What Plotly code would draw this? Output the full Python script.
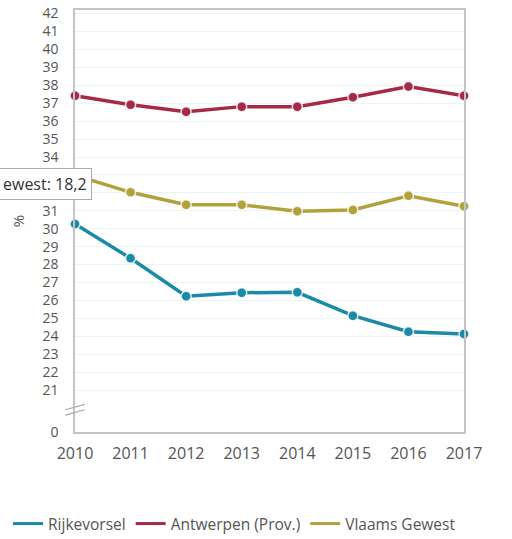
import plotly.graph_objects as go

years = [2010, 2011, 2012, 2013, 2014, 2015, 2016, 2017]
# values as displayed on the (broken) percentage axis
rijkevorsel = [30.26, 28.35, 26.23, 26.43, 26.45, 25.15, 24.25, 24.13]
antwerpen = [37.42, 36.92, 36.53, 36.81, 36.81, 37.33, 37.93, 37.42]
vlaams = [32.98, 32.03, 31.34, 31.34, 30.97, 31.05, 31.84, 31.25]

series_names = ["Rijkevorsel", "Antwerpen (Prov.)", "Vlaams Gewest"]
series_colors = ["#1a8aa6", "#a52a47", "#b2a23c"]

ytick_vals = [18.66] + list(range(21, 43))
ytick_text = ["0"] + [str(v) for v in range(21, 43)]

tooltip_text = "ewest: 18,2"
tooltip_y = 32.5

font_family = "Open Sans, sans-serif"
text_color = "#555555"

fig = go.Figure()
for name, vals, col in zip(series_names, [rijkevorsel, antwerpen, vlaams], series_colors):
    fig.add_trace(go.Scatter(
        x=years, y=vals, name=name, mode="lines+markers", showlegend=False,
        line=dict(color=col, width=3.5),
        marker=dict(color=col, size=10, line=dict(color="rgba(255,255,255,0.8)", width=1.5)),
        cliponaxis=False,
    ))
# legend entries (line only, like the reference legend)
for name, col in zip(series_names, series_colors):
    fig.add_trace(go.Scatter(x=[None], y=[None], name=name, mode="lines",
                             line=dict(color=col, width=3), showlegend=True))

# axis break marks
for off in (0.0, 0.3):
    fig.add_shape(type="line", xref="paper", yref="y",
                  x0=-0.025, x1=0.025, y0=19.6 + off, y1=19.9 + off,
                  line=dict(color="#aaaaaa", width=1.2))

fig.add_annotation(
    xref="x", yref="y", x=2010, y=tooltip_y, xanchor="right", xshift=17,
    text=tooltip_text, showarrow=False,
    font=dict(family=font_family, size=16, color="#333333"),
    bgcolor="white", bordercolor="#aaaaaa", borderwidth=1, borderpad=4,
)

fig.update_layout(
    width=512, height=539,
    margin=dict(l=75, r=48, t=10, b=107, autoexpand=False),
    paper_bgcolor="white", plot_bgcolor="white",
    font=dict(family=font_family, size=14, color=text_color),
    showlegend=True,
    legend=dict(orientation="h", x=-0.1722, xanchor="left", xref="paper",
                y=-0.218, yanchor="middle", yref="paper",
                font=dict(size=15.5, color=text_color),
                itemwidth=30, tracegroupgap=0),
    hovermode=False,
)
fig.update_xaxes(
    range=[2010, 2017], tickvals=years, ticktext=[str(y) for y in years],
    showgrid=False, showline=True, mirror=True, linecolor="#c4c4c4", linewidth=1.5,
    ticks="outside", ticklen=6, tickcolor="rgba(0,0,0,0)", zeroline=False,
    tickfont=dict(size=16),
)
fig.update_yaxes(
    range=[18.66, 42.2], tickvals=ytick_vals, ticktext=ytick_text,
    showgrid=True, gridcolor="#eaf5f8", gridwidth=1,
    showline=True, mirror=True, linecolor="#c4c4c4", linewidth=1.5,
    ticks="outside", ticklen=12, tickcolor="rgba(0,0,0,0)", zeroline=False,
    tickfont=dict(size=14),
    title=dict(text="%", standoff=14, font=dict(size=15, color=text_color)),
)

fig.write_html("out.html", config={"displayModeBar": False},
               post_script="document.body.style.margin='0';")
